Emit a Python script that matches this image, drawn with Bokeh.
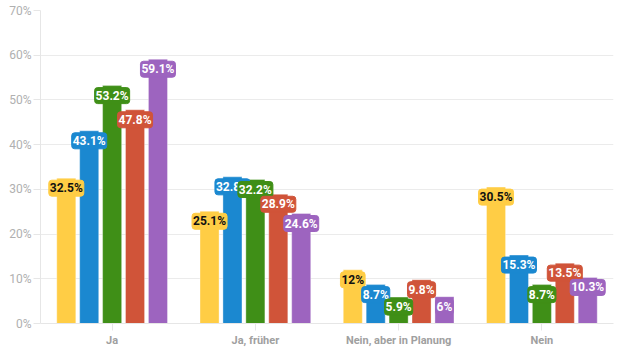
from bokeh.plotting import figure
from bokeh.models import ColumnDataSource, FactorRange, FixedTicker, PrintfTickFormatter
from bokeh.transform import dodge
from bokeh.core.properties import value
from bokeh.embed import file_html
from bokeh.resources import INLINE

categories = ["Ja", "Ja, früher", "Nein, aber in Planung", "Nein"]
series_names = ["Serie 1", "Serie 2", "Serie 3", "Serie 4", "Serie 5"]
series_1 = [32.5, 25.1, 12.0, 30.5]
series_2 = [43.1, 32.8, 8.7, 15.3]
series_3 = [53.2, 32.2, 5.9, 8.7]
series_4 = [47.8, 28.9, 9.8, 13.5]
series_5 = [59.1, 24.6, 6.0, 10.3]
series_values = [series_1, series_2, series_3, series_4, series_5]
colors = ["#FFCD45", "#1B88D0", "#3F8F17", "#D05439", "#9D64BF"]
label_text_colors = ["#111111", "#ffffff", "#ffffff", "#ffffff", "#ffffff"]
y_ticks = [0, 10, 20, 30, 40, 50, 60, 70]

def fmt(v):
    return ("%g" % v) + "%"

p = figure(x_range=FactorRange(*categories, range_padding=0), y_range=(0, 70),
           width=627, height=352, output_backend="svg", toolbar_location=None,
           min_border_left=40, min_border_right=14, min_border_top=10, min_border_bottom=29)
p.outline_line_color = None
p.background_fill_color = "white"
p.border_fill_color = "white"

offsets = [-0.32, -0.16, 0.0, 0.16, 0.32]
bar_w = 0.133

sources = []
for i, vals in enumerate(series_values):
    src = ColumnDataSource(dict(cat=categories, val=vals, lab=[fmt(v) for v in vals]))
    sources.append(src)
    p.vbar(x=dodge("cat", offsets[i], range=p.x_range), top="val", width=bar_w, bottom=0,
           source=src, fill_color=colors[i], line_color="#ffffff", line_alpha=0.35, line_width=1)

for i, src in enumerate(sources):
    p.text(x=dodge("cat", offsets[i], range=p.x_range), y="val", text="lab", source=src,
           text_align="center", text_baseline="middle", y_offset=10,
           text_font=value("Roboto"), text_font_style="bold", text_font_size="12px",
           text_color=label_text_colors[i],
           background_fill_color=colors[i], border_line_color=colors[i],
           padding=1, border_radius=3)

p.yaxis.ticker = FixedTicker(ticks=y_ticks)
p.yaxis.formatter = PrintfTickFormatter(format="%d%%")
p.yaxis.axis_line_color = "#e6e6e6"
p.yaxis.major_tick_line_color = "#e6e6e6"
p.yaxis.major_tick_out = 7
p.yaxis.major_tick_in = 0
p.yaxis.minor_tick_line_color = None
p.yaxis.major_label_text_color = "#b0b0b0"
p.yaxis.major_label_text_font = "Roboto"
p.yaxis.major_label_text_font_size = "12px"
p.yaxis.major_label_standoff = 2

p.xaxis.axis_line_color = "#e6e6e6"
p.xaxis.major_tick_line_color = "#e6e6e6"
p.xaxis.major_tick_out = 7
p.xaxis.major_tick_in = 0
p.xaxis.major_label_text_color = "#a0a0a0"
p.xaxis.major_label_text_font = "Roboto"
p.xaxis.major_label_text_font_style = "bold"
p.xaxis.major_label_text_font_size = "11px"
p.xaxis.major_label_standoff = 3

p.xgrid.grid_line_color = None
p.ygrid.grid_line_color = "#ebebeb"

open("out.html", "w").write(file_html(p, INLINE))
